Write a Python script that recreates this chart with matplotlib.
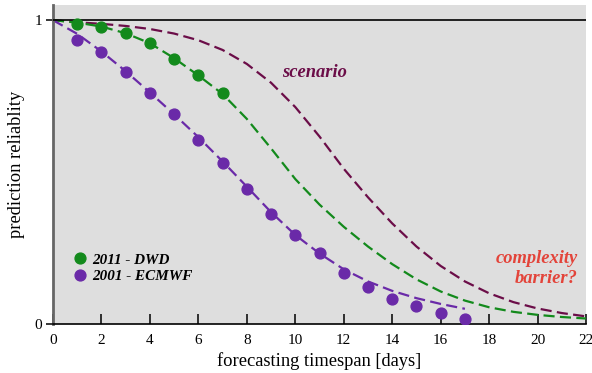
import matplotlib
matplotlib.use('Agg')
import matplotlib.pyplot as plt
from matplotlib.lines import Line2D

# === DATA ===
dwd_days = [1, 2, 3, 4, 5, 6, 7]
dwd_vals = [0.987, 0.978, 0.958, 0.925, 0.872, 0.818, 0.761]

ecmwf_days = [1, 2, 3, 4, 5, 6, 7, 8, 9, 10, 11, 12, 13, 14, 15, 16, 17]
ecmwf_vals = [0.934, 0.894, 0.830, 0.759, 0.691, 0.606, 0.529, 0.444, 0.362,
              0.294, 0.233, 0.169, 0.121, 0.083, 0.059, 0.037, 0.017]

curve_days = [0, 1, 2, 3, 4, 5, 6, 7, 8, 9, 10, 11, 12, 13, 14, 15, 16, 17,
              18, 19, 20, 21, 22]
green_fit = [1.0, 0.992, 0.979, 0.957, 0.924, 0.875, 0.818, 0.757, 0.675,
             0.578, 0.477, 0.393, 0.320, 0.255, 0.197, 0.147, 0.107, 0.077,
             0.055, 0.040, 0.030, 0.023, 0.018]
scenario_fit = [1.0, 0.993, 0.988, 0.981, 0.971, 0.956, 0.934, 0.902, 0.856,
                0.794, 0.714, 0.617, 0.511, 0.417, 0.331, 0.255, 0.191, 0.140,
                0.101, 0.072, 0.051, 0.036, 0.025]
purple_days = curve_days[:18]
purple_fit = [1.0, 0.955, 0.897, 0.832, 0.762, 0.690, 0.615, 0.535, 0.452,
              0.368, 0.293, 0.232, 0.180, 0.140, 0.109, 0.085, 0.066, 0.050]

x_ticks = [0, 2, 4, 6, 8, 10, 12, 14, 16, 18, 20, 22]

# === PALETTE ===
GREEN = '#138a1c'
PURPLE = '#6a2aa8'
MAROON = '#6b0d48'
RED = '#e3443a'
BG = '#dedede'

plt.rcParams['font.family'] = ['Liberation Serif', 'DejaVu Serif']

fig = plt.figure(figsize=(5.92, 3.73), dpi=100)
ax = fig.add_axes([0.0895, 0.1314, 0.9005, 0.8552])
ax.set_facecolor(BG)

dash = [5, 2.4]
lw = 1.6
l1, = ax.plot(curve_days, scenario_fit, color=MAROON, lw=lw)
l2, = ax.plot(curve_days, green_fit, color=GREEN, lw=lw)
l3, = ax.plot(purple_days, purple_fit, color=PURPLE, lw=lw)
for ln in (l1, l2, l3):
    ln.set_dashes(dash)

ax.plot(dwd_days, dwd_vals, 'o', color=GREEN, ms=7.8, zorder=4)
ax.plot(ecmwf_days, ecmwf_vals, 'o', color=PURPLE, ms=7.8, zorder=4)

ax.axhline(1.0, color='black', lw=1.2, zorder=3)

ax.set_xlim(0, 22)
ax.set_ylim(0, 1.05)
ax.set_xticks(x_ticks)
ax.set_yticks([0, 1])
ax.set_yticklabels(['0', '1'])
ax.tick_params(axis='x', direction='in', length=7, width=1.1, colors='black',
               labelsize=11, pad=7)
ax.tick_params(axis='y', direction='out', length=5, width=1.1, colors='black',
               labelsize=11, pad=3)
ax.spines[['top', 'right']].set_visible(False)
ax.spines['left'].set_color('#666666')
ax.spines['left'].set_linewidth(2)
ax.spines['bottom'].set_color('black')
ax.spines['bottom'].set_linewidth(1.2)

ax.set_xlabel('forecasting timespan [days]', fontsize=13.3, labelpad=4)
ax.set_ylabel('prediction reliablity', fontsize=13.3)
ax.yaxis.set_label_coords(-0.052, 0.5)

ax.text(10.8, 0.829, 'scenario', color=MAROON, fontsize=13.3,
        fontweight='bold', style='italic', ha='center', va='center')
ax.text(21.65, 0.183, 'complexity\nbarrier?', color=RED, fontsize=13.3,
        fontweight='bold', style='italic', ha='right', va='center',
        multialignment='right', linespacing=1.2)

handles = [Line2D([], [], ls='none', marker='o', color=GREEN, ms=7.8),
           Line2D([], [], ls='none', marker='o', color=PURPLE, ms=7.8)]
ax.legend(handles, ['2011 - DWD', '2001 - ECMWF'], loc='center left',
          bbox_to_anchor=(0.026, 0.175), frameon=False, handlelength=0.8,
          handletextpad=0.4, labelspacing=0.2, borderpad=0,
          prop={'family': 'Liberation Serif', 'weight': 'bold',
                'style': 'italic', 'size': 10.9})

fig.savefig('out.png', dpi=100, facecolor='white')
